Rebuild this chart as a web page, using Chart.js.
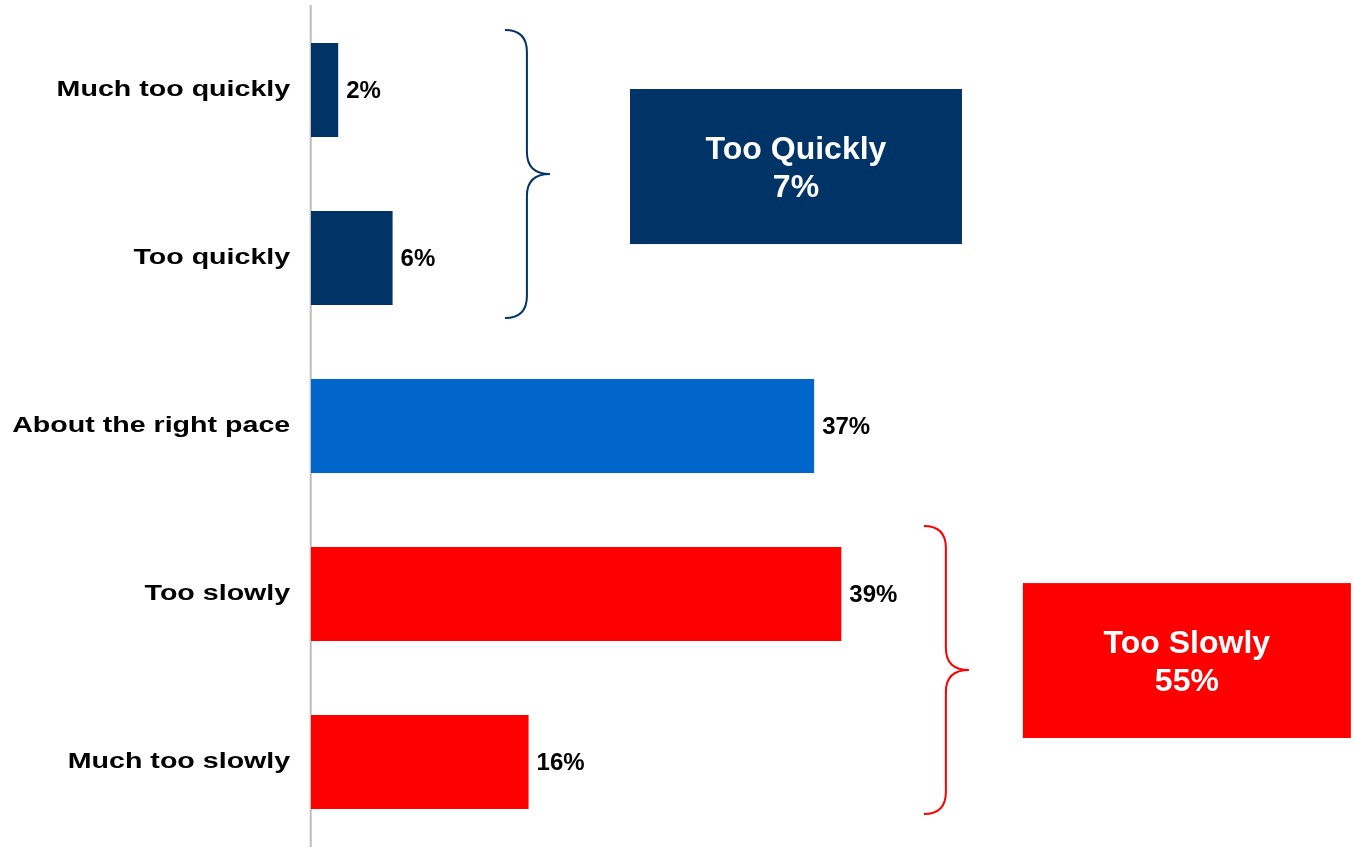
<!DOCTYPE html>
<html>
<head>
<meta charset="utf-8">
<script src="https://cdn.jsdelivr.net/npm/chart.js@4.4.1/dist/chart.umd.min.js"></script>
<style>
  html, body { margin: 0; padding: 0; background: #fff; }
  #wrap { width: 1354px; height: 850px; position: relative; }
</style>
</head>
<body>
<div id="wrap"><canvas id="paceChart"></canvas></div>
<script>
// Data
const categories = ['Much too quickly', 'Too quickly', 'About the right pace', 'Too slowly', 'Much too slowly'];
const values = [2, 6, 37, 39, 16];
const groupLabels = ['Too Quickly', 'Too Slowly'];
const groupValues = [7, 55];

// Styles
const NAVY = '#003366';
const BLUE = '#0066CC';
const RED = '#FF0000';
const barColors = [NAVY, NAVY, BLUE, RED, RED];
const FONT = "'Liberation Sans', Arial, sans-serif";
const LABEL_STRETCH = 1.3; // category labels in the source are drawn wide

// Brackets + summary boxes, placed in scale units (x = percent, y = category index)
const groups = [
  { from: -0.357, to: 1.357, bracketX: 14.26, boxX: [23.46, 47.87], boxY: [-0.006, 0.917], color: NAVY },
  { from: 2.595, to: 4.31, bracketX: 45.07, boxX: [52.35, 76.47], boxY: [2.935, 3.857], color: RED }
];

const groupPlugin = {
  id: 'groupAnnotations',
  beforeDraw: (chart) => {
    // stretch the axis layer horizontally around the axis line
    const left = chart.chartArea.left;
    chart.ctx.setTransform(LABEL_STRETCH, 0, 0, 1, left * (1 - LABEL_STRETCH), 0);
  },
  beforeDatasetsDraw: (chart) => {
    chart.ctx.setTransform(1, 0, 0, 1, 0, 0);
  },
  afterDatasetsDraw: (chart) => {
    const { ctx, scales: { x, y } } = chart;
    ctx.save();

    // value labels
    chart.getDatasetMeta(0).data.forEach((bar, i) => {
      ctx.font = `bold 24px ${FONT}`;
      ctx.fillStyle = '#000';
      ctx.textAlign = 'left';
      ctx.textBaseline = 'middle';
      ctx.fillText(`${values[i]}%`, bar.x + 8, bar.y + 1);
    });

    groups.forEach((g, i) => {
      // curly bracket
      const top = y.getPixelForValue(g.from);
      const bot = y.getPixelForValue(g.to);
      const mid = (top + bot) / 2;
      const x0 = x.getPixelForValue(g.bracketX);
      const x1 = x0 + 22;
      const x2 = x0 + 45;
      const r = 22;
      ctx.beginPath();
      ctx.moveTo(x0, top);
      ctx.quadraticCurveTo(x1, top, x1, top + r);
      ctx.lineTo(x1, mid - r);
      ctx.quadraticCurveTo(x1, mid, x2, mid);
      ctx.quadraticCurveTo(x1, mid, x1, mid + r);
      ctx.lineTo(x1, bot - r);
      ctx.quadraticCurveTo(x1, bot, x0, bot);
      ctx.strokeStyle = g.color;
      ctx.lineWidth = 2;
      ctx.stroke();

      // summary box
      const bx0 = x.getPixelForValue(g.boxX[0]);
      const bx1 = x.getPixelForValue(g.boxX[1]);
      const by0 = y.getPixelForValue(g.boxY[0]);
      const by1 = y.getPixelForValue(g.boxY[1]);
      ctx.fillStyle = g.color;
      ctx.fillRect(bx0, by0, bx1 - bx0, by1 - by0);

      const cx = (bx0 + bx1) / 2;
      const cy = (by0 + by1) / 2;
      ctx.fillStyle = '#fff';
      ctx.font = `bold 32px ${FONT}`;
      ctx.textAlign = 'center';
      ctx.textBaseline = 'middle';
      ctx.fillText(groupLabels[i], cx, cy - 16);
      ctx.fillText(`${groupValues[i]}%`, cx, cy + 22);
    });

    ctx.restore();
  }
};

new Chart(document.getElementById('paceChart'), {
  type: 'bar',
  data: {
    labels: categories,
    datasets: [{
      data: values,
      backgroundColor: barColors,
      borderWidth: 0,
      categoryPercentage: 1,
      barPercentage: 0.56
    }]
  },
  options: {
    indexAxis: 'y',
    responsive: true,
    maintainAspectRatio: false,
    animation: false,
    layout: { padding: { top: 6, bottom: 4, left: 0, right: 0 } },
    plugins: {
      legend: { display: false },
      tooltip: { enabled: false }
    },
    scales: {
      x: {
        display: false,
        min: 0,
        max: 76.7
      },
      y: {
        grid: { display: false, drawTicks: false },
        border: { display: true, color: '#BFBFBF', width: 1.6 },
        ticks: {
          color: '#000',
          padding: 16,
          font: { family: FONT, size: 22, weight: 'bold' }
        },
        afterFit: (scale) => {
          scale.width = 311;
          scale.paddingTop = 0;
          scale.paddingBottom = 0;
        }
      }
    }
  },
  plugins: [groupPlugin]
});
</script>
</body>
</html>
